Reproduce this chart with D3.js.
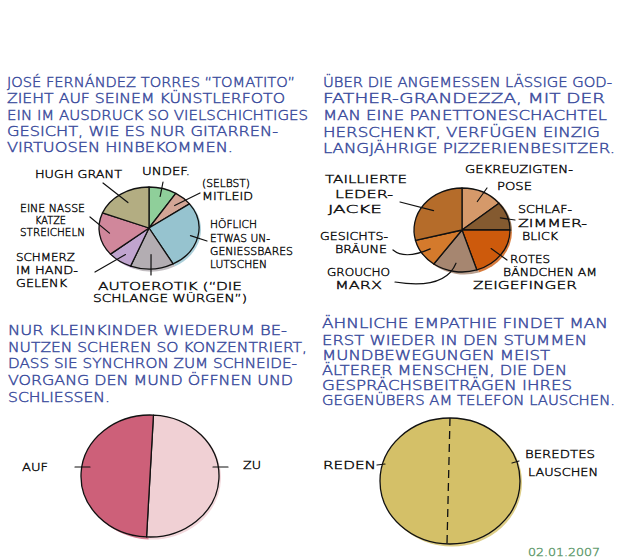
<!DOCTYPE html>
<html><head><meta charset="utf-8">
<script src="https://cdn.jsdelivr.net/npm/d3@7"></script>
<style>body{margin:0;background:#fff}svg{display:block}</style>
</head><body>
<script>
// ---------- DATA ----------
const text1 = ["JOSÉ FERNÁNDEZ TORRES \u201CTOMATITO\u201D","ZIEHT AUF SEINEM KÜNSTLERFOTO","EIN IM AUSDRUCK SO VIELSCHICHTIGES","GESICHT, WIE ES NUR GITARREN-","VIRTUOSEN HINBEKOMMEN."];
const text2 = ["ÜBER DIE ANGEMESSEN LÄSSIGE GOD-","FATHER-GRANDEZZA, MIT DER","MAN EINE PANETTONESCHACHTEL","HERSCHENKT, VERFÜGEN EINZIG","LANGJÄHRIGE PIZZERIENBESITZER."];
const text3 = ["NUR KLEINKINDER WIEDERUM BE-","NUTZEN SCHEREN SO KONZENTRIERT,","DASS SIE SYNCHRON ZUM SCHNEIDE-","VORGANG DEN MUND ÖFFNEN UND","SCHLIESSEN."];
const text4 = ["ÄHNLICHE EMPATHIE FINDET MAN","ERST WIEDER IN DEN STUMMEN","MUNDBEWEGUNGEN MEIST","ÄLTERER MENSCHEN, DIE DEN","GESPRÄCHSBEITRÄGEN IHRES","GEGENÜBERS AM TELEFON LAUSCHEN."];

const pie1Labels = [["UNDEF."],["(SELBST)","MITLEID"],["HÖFLICH","ETWAS UN-","GENIESSBARES","LUTSCHEN"],["AUTOEROTIK (\u201CDIE","SCHLANGE WÜRGEN\u201D)"],["SCHMERZ","IM HAND-","GELENK"],["EINE NASSE","KATZE","STREICHELN"],["HUGH GRANT"]];
const pie1Values = [9, 6, 27, 14, 8, 17, 19];

const pie2Labels = [["GEKREUZIGTEN-","POSE"],["SCHLAF-","ZIMMER-","BLICK"],["ROTES","BÄNDCHEN AM","ZEIGEFINGER"],["GROUCHO","MARX"],["GESICHTS-","BRÄUNE"],["TAILLIERTE","LEDER-","JACKE"]];
const pie2Values = [14, 11, 20, 15, 11, 29];

const pie3Labels = [["ZU"],["AUF"]];
const pie3Values = [50, 50];

const pie4Labels = [["BEREDTES","LAUSCHEN"],["REDEN"]];
const pie4Values = [50, 50];

const dateText = "02.01.2007";

// ---------- STYLE / LAYOUT ----------
const pie1Colors = ["#8fcf9a","#d4a696","#96c3cf","#b3adb2","#c0a4cf","#d0879b","#b3ad82"];
const pie2Colors = ["#d5996a","#845a30","#cd5a0c","#a68670","#d47a2c","#b56c2a"];
const pie3Colors = ["#f0d0d4","#cd6079"];
const pie4Colors = ["#d4c068","#d4c068"];
const blue = "#3d4e9e";
const FONT = "'DejaVu Sans ExtraLight', 'DejaVu Sans', sans-serif";

const W = 620, H = 560;
const svg = d3.select("body").append("svg").attr("width", W).attr("height", H);

function paragraph(lines, x, baselines, rights){
  lines.forEach((t,i)=>{
    svg.append("text").attr("x", x).attr("y", baselines[i])
      .attr("font-family", FONT).attr("font-weight", 200).attr("font-size", 13.5).attr("fill", blue)
      .attr("stroke", blue).attr("stroke-width", 0.45)
      .attr("textLength", rights[i]-x).attr("lengthAdjust","spacingAndGlyphs")
      .text(t);
  });
}
paragraph(text1, 7, [87,103,120,136,152], [295,285,308,278,233]);
paragraph(text2, 323, [87,103,120,137,153], [612,605,607,600,615]);
paragraph(text3, 8, [335,352,368,385,402], [287,307,297,293,110]);
paragraph(text4, 322, [328,345,360,375,390,405], [608,587,550,567,572,615]);

function drawPie(opts){
  const {cx, cy, rx, ry, values, colors, start=0, strokeSlices=true} = opts;
  const pie = d3.pie().sort(null).value(d=>d).startAngle(start).endAngle(start+2*Math.PI);
  const arcs = pie(values);
  const arc = d3.arc().innerRadius(0).outerRadius(rx);
  // sketchy overflow
  const gs = svg.append("g").attr("transform",`translate(${cx+2},${cy+1.5}) scale(1,${(ry+1)/rx})`);
  gs.selectAll("path").data(arcs).join("path").attr("d", arc).attr("fill",(d,i)=>colors[i]).attr("opacity",0.8);
  const g = svg.append("g").attr("transform",`translate(${cx},${cy}) scale(1,${ry/rx})`);
  g.selectAll("path.s").data(arcs).join("path").attr("class","s").attr("d", arc)
    .attr("fill",(d,i)=>colors[i])
    .attr("stroke", strokeSlices ? "#111" : "none").attr("stroke-width",1.3)
    .attr("stroke-linejoin","round").attr("vector-effect","non-scaling-stroke");
  if(!strokeSlices){
    g.append("ellipse").attr("rx",rx).attr("ry",rx).attr("fill","none")
      .attr("stroke","#111").attr("stroke-width",1.3).attr("vector-effect","non-scaling-stroke");
  }
  return arcs.map(a=>{
    const mid=(a.startAngle+a.endAngle)/2;
    return {a, pt:(k)=>[cx+k*rx*Math.sin(mid), cy-k*ry*Math.cos(mid)],
            edge:(ang,k)=>[cx+k*rx*Math.sin(ang), cy-k*ry*Math.cos(ang)]};
  });
}

function labelBlock(lines, layout){
  lines.forEach((t,i)=>{
    const l = layout.lines[i];
    svg.append("text").attr("x", l[0]).attr("y", l[1])
      .attr("font-family", FONT).attr("font-weight", 200).attr("font-size", 10.5).attr("fill","#111")
      .attr("stroke","#111").attr("stroke-width",0.4)
      .attr("textLength", l[2]-l[0]).attr("lengthAdjust","spacingAndGlyphs").text(t);
  });
}
function leader(p0, p1, ctrl){
  const p = d3.path(); p.moveTo(p0[0],p0[1]);
  if(ctrl) p.quadraticCurveTo(ctrl[0],ctrl[1],p1[0],p1[1]); else p.lineTo(p1[0],p1[1]);
  svg.append("path").attr("d",p.toString()).attr("fill","none").attr("stroke","#111").attr("stroke-width",1.2).attr("stroke-linecap","round");
}

// Pie 1
const p1 = drawPie({cx:149, cy:228, rx:50, ry:41, values:pie1Values, colors:pie1Colors});
const lay1 = [
  {lines:[[142,175,190]], out:[163,182], k:0.8},
  {lines:[[202,187,250],[202,200,253]], out:[200,193], k:0.75},
  {lines:[[210,228,257],[210,242,270],[210,255,293],[210,268,267]], out:[207,241], k:0.85},
  {lines:[[98,290,242],[93,302,247]], out:[151,275], k:0.65},
  {lines:[[16,261,75],[16,274,78],[16,287,67]], out:[95,272], k:0.8},
  {lines:[[20,212,85],[35,224,66],[20,236,85]], out:[90,217], k:0.8},
  {lines:[[35,178,122]], out:[103,183], k:0.75}
];
p1.forEach((s,i)=>{ labelBlock(pie1Labels[i], lay1[i]); leader(lay1[i].out, s.pt(lay1[i].k)); });

// Pie 2
const p2 = drawPie({cx:462, cy:230, rx:48, ry:42, values:pie2Values, colors:pie2Colors});
const lay2 = [
  {lines:[[465,173,573],[497,190,532]], out:[487,188], k:0.75},
  {lines:[[518,213,572],[518,227,587],[522,240,558]], out:[515,220], k:0.85},
  {lines:[[510,263,550],[503,276,597],[473,289,577]], out:[507,260], k:0.75},
  {lines:[[327,276,390],[335,289,382]], out:[395,282], k:0.8, ctrl:[445,290]},
  {lines:[[320,240,388],[335,253,387]], out:[393,250], k:0.8, ctrl:[405,260]},
  {lines:[[325,183,407],[335,198,393],[328,213,382]], out:[400,202], k:0.75}
];
p2.forEach((s,i)=>{ labelBlock(pie2Labels[i], lay2[i]); leader(lay2[i].out, s.pt(lay2[i].k), lay2[i].ctrl); });

// Pie 3
const p3 = drawPie({cx:150, cy:476, rx:69, ry:61, values:pie3Values, colors:pie3Colors, start:0.05});
labelBlock(pie3Labels[0], {lines:[[243,469,261]]});
labelBlock(pie3Labels[1], {lines:[[22,471,48]]});
leader([213,467],[228,467]);
leader([75,467],[90,467]);

// Pie 4
const p4 = drawPie({cx:450, cy:481, rx:70, ry:63, values:pie4Values, colors:pie4Colors, strokeSlices:false});
const top4 = p4[0].edge(p4[0].a.startAngle,1), bot4 = p4[0].edge(p4[0].a.endAngle,1);
svg.append("line").attr("x1",top4[0]).attr("y1",top4[1]).attr("x2",bot4[0]-3).attr("y2",bot4[1])
  .attr("stroke","#111").attr("stroke-width",1.3).attr("stroke-dasharray","8,5");
labelBlock(pie4Labels[0], {lines:[[525,458,595],[528,476,598]]});
labelBlock(pie4Labels[1], {lines:[[323,469,376]]});
leader([512,463],[519,461]);
leader([377,465],[385,464]);

svg.append("text").attr("x",528).attr("y",556).attr("font-family",FONT).attr("font-weight",200).attr("font-size",11)
  .attr("fill","#5f9a6c").attr("stroke","#5f9a6c").attr("stroke-width",0.4)
  .attr("textLength",72).attr("lengthAdjust","spacingAndGlyphs").text(dateText);
</script>
</body></html>
